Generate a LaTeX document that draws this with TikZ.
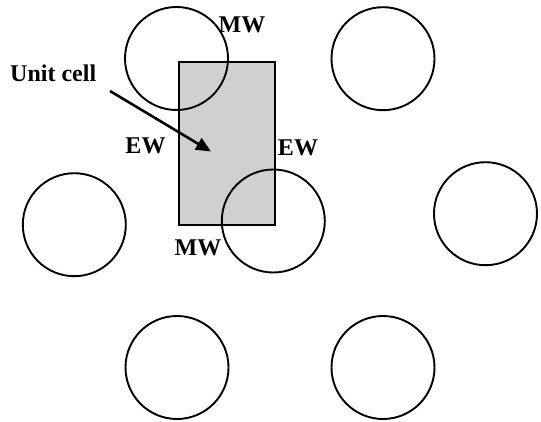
\documentclass[tikz,border=0pt]{standalone}
\usepackage{fontspec}
\setmainfont{Liberation Serif}
\usetikzlibrary{arrows.meta}
\definecolor{cellgray}{HTML}{D0D0D0}
\tikzset{
  fiber/.style={circle, draw=black, line width=1.9pt, minimum size=103pt, inner sep=0pt},
  lbl/.style={font=\fontsize{24}{27}\selectfont\bfseries, inner sep=0pt, anchor=base}
}
\begin{document}
\begin{tikzpicture}[x=1pt,y=-1pt]
\useasboundingbox (0,0) rectangle (541,422);
\node[draw=black, fill=cellgray, line width=2pt, inner sep=0pt, minimum width=96pt, minimum height=163pt] (cell) at (227,143.5) {};
\node[fiber] (c1) at (176.5,58.5) {};
\node[fiber] (c2) at (383,58.7) {};
\node[fiber] (c3) at (74.3,224.7) {};
\node[fiber] (c4) at (273.3,221) {};
\node[fiber] (c5) at (485.5,213.7) {};
\node[fiber] (c6) at (177,367.5) {};
\node[fiber] (c7) at (383,367.5) {};
\node[lbl, anchor=base west] (uc) at (10,82) {Unit cell};
\node[lbl] (mwt) at (242,33) {MW};
\node[lbl] (ewl) at (145.5,154) {EW};
\node[lbl] (ewr) at (298,156) {EW};
\node[lbl] (mwb) at (198,255.5) {MW};
\coordinate (as) at (110,91);
\coordinate (at) at (211,151.5);
\draw[line width=2.6pt, -{Triangle[length=15pt,width=13pt]}] (as) -- (at);
\end{tikzpicture}
\end{document}
